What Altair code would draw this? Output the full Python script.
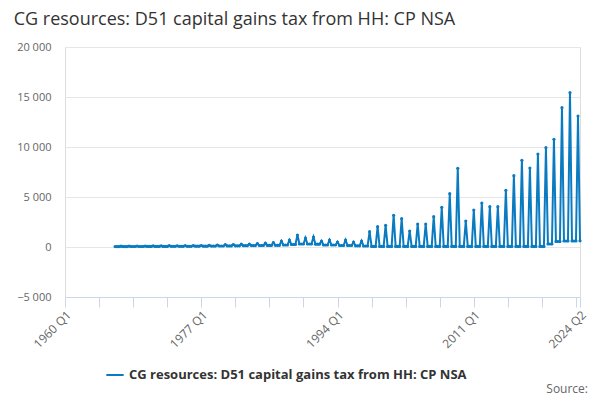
import pandas as pd
import altair as alt

SERIES = "CG resources: D51 capital gains tax from HH: CP NSA"

YEARS = list(range(1966, 2025))
# Q1 value per year (annual self-assessment spike), then Q2-Q4 level per year
Q1_PEAK = [
    80, 80, 90, 100, 100, 110, 120, 130, 120, 130,
    140, 150, 170, 200, 230, 250, 280, 300, 350, 400,
    450, 600, 700, 1200, 900, 1000, 600, 700, 500, 700,
    500, 600,
    1530, 2030, 2170, 3170, 2830, 1600, 2300, 2300, 3030, 3970,
    5330, 7870, 2600, 3700, 4400, 4030, 4030, 5670, 7130, 8670,
    7900, 9300, 9930, 10770, 13930, 15430, 13100,
]
REST = [
    40, 40, 50, 50, 60, 60, 60, 70, 70, 70,
    80, 80, 90, 100, 110, 120, 130, 140, 150, 160,
    170, 200, 250, 300, 300, 280, 200, 200, 150, 150,
    120, 100,
    60, 60, 60, 60, 60, 60, 60, 60, 60, 60,
    60, 60, 60, 60, 60, 60, 60, 60, 60, 60,
    60, 60, 300, 550, 600, 600, 620,
]

rows = []
for y, pk, rest in zip(YEARS, Q1_PEAK, REST):
    for q in range(1, 5):
        if y == 1966 and q == 1:
            continue
        if y == 2024 and q > 2:
            break
        rows.append({"t": (y - 1960) * 4 + q - 1, "value": pk if q == 1 else rest, "series": SERIES})
df = pd.DataFrame(rows)

TICKS = list(range(0, 256, 17)) + [257]
label_expr = (
    "indexof([0,68,136,204,257], datum.value) >= 0 ? "
    "(1960 + floor(datum.value/4)) + ' Q' + (datum.value % 4 + 1) : ''"
)

chart = (
    alt.Chart(df)
    .mark_line(strokeWidth=2, point=alt.OverlayMarkDef(size=10, filled=True))
    .encode(
        x=alt.X(
            "t:Q",
            scale=alt.Scale(domain=[0, 257], nice=False, zero=False),
            axis=alt.Axis(
                title=None, values=TICKS, labelExpr=label_expr, labelAngle=-45,
                labelAlign="right", labelBaseline="top", grid=False,
                domainColor="#ccd6eb", tickColor="#ccd6eb", tickSize=10,
                labelColor="#666666", labelFontSize=12, labelFont="Open Sans",
                labelOverlap=False,
            ),
        ),
        y=alt.Y(
            "value:Q",
            scale=alt.Scale(domain=[-5000, 20000], nice=False),
            axis=alt.Axis(
                title=None, values=[-5000, 0, 5000, 10000, 15000, 20000],
                labelExpr="replace(format(datum.value, ','), ',', ' ')",
                domain=False, ticks=False, gridColor="#e6e6e6",
                labelColor="#666666", labelFontSize=11, labelFont="Open Sans", labelPadding=14,
            ),
        ),
        color=alt.Color(
            "series:N",
            scale=alt.Scale(range=["#0a7bc1"]),
            legend=alt.Legend(
                title=None, orient="none", legendX=40, legendY=318, direction="horizontal",
                symbolType="stroke", symbolStrokeWidth=2, labelLimit=0,
                labelFont="Open Sans", labelFontSize=13, labelFontWeight="bold",
                labelColor="#333333", symbolSize=300,
            ),
        ),
    )
)

source = alt.Chart(pd.DataFrame({"s": ["Source:"]})).mark_text(
    align="right", fontSize=12, font="Open Sans", color="#666666"
).encode(text="s:N", x=alt.value(523), y=alt.value(342))

final = (
    (chart + source)
    .properties(
        width=515, height=250,
        padding={"left": 57, "top": 39, "right": 12, "bottom": 105},
        title=alt.Title(
            "CG resources: D51 capital gains tax from HH: CP NSA",
            anchor="start", font="Open Sans", fontSize=18, fontWeight="normal",
            color="#333333", offset=12, dx=-3,
        ),
    )
    .configure_view(stroke=None)
    .configure(autosize=alt.AutoSizeParams(type="none"))
)
final.save("out.html", embed_options={"renderer": "svg", "actions": False})
